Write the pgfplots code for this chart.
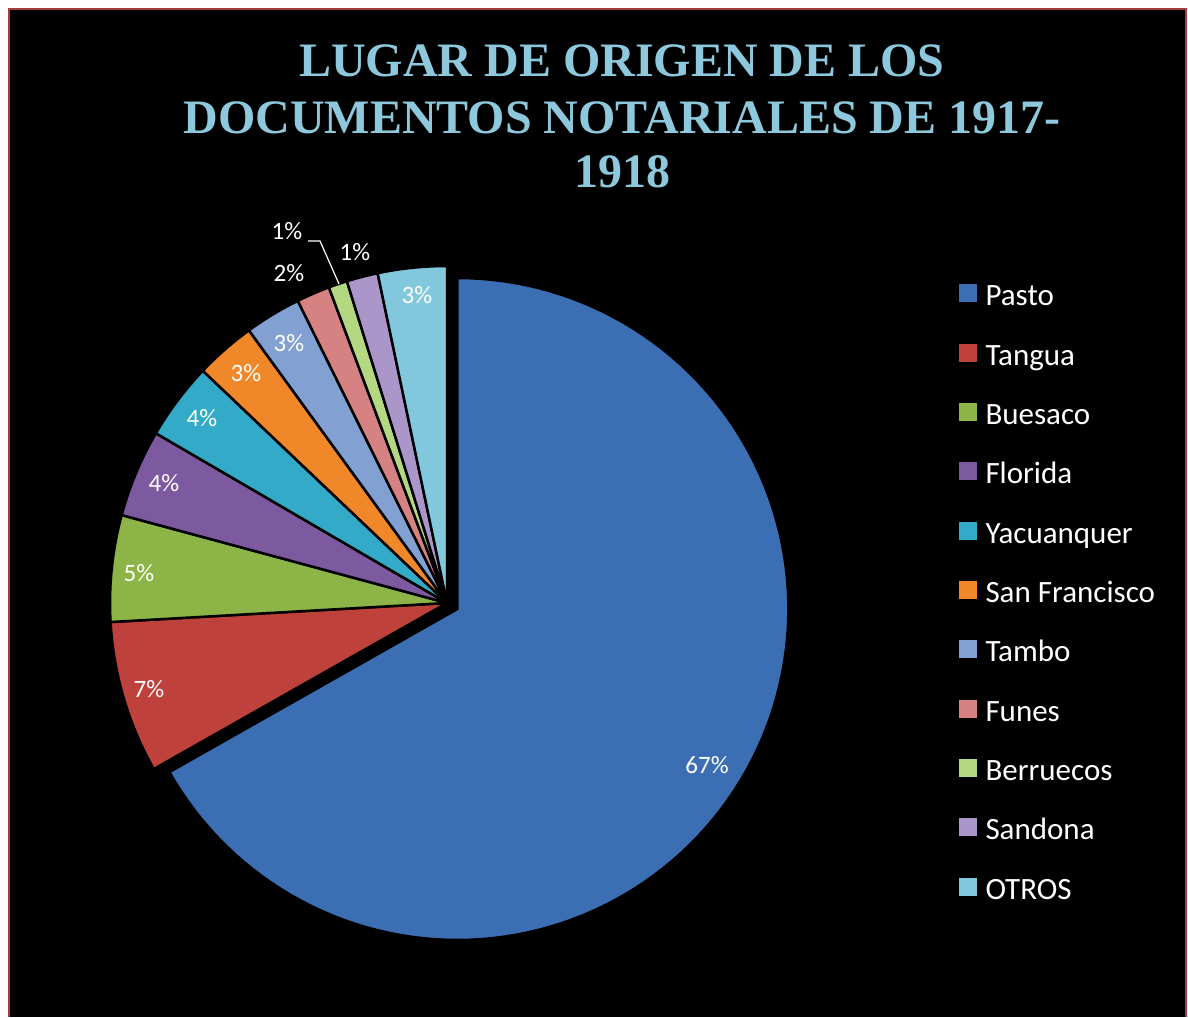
\documentclass[border=0pt]{standalone}
\usepackage{pgfplots}
\pgfplotsset{compat=1.18}
\usepackage{fontspec}
\setmainfont{Carlito}
\newfontfamily\titlefont{Liberation Serif}
\definecolor{titleblue}{RGB}{141,200,220}
\definecolor{cPasto}{RGB}{60,110,180}
\definecolor{cTangua}{RGB}{190,65,60}
\definecolor{cBuesaco}{RGB}{140,180,70}
\definecolor{cFlorida}{RGB}{125,90,160}
\definecolor{cYacu}{RGB}{50,170,200}
\definecolor{cSanFran}{RGB}{240,135,40}
\definecolor{cTambo}{RGB}{130,160,210}
\definecolor{cFunes}{RGB}{215,130,130}
\definecolor{cBerru}{RGB}{180,215,130}
\definecolor{cSandona}{RGB}{170,150,200}
\definecolor{cOtros}{RGB}{130,200,220}
\definecolor{frame}{RGB}{165,60,60}
% #1 start (%), #2 end (%), #3 colour, #4 cx, #5 cy, #6 radius, #7 samples
\newcommand{\slice}[7]{%
  \addplot[fill=#3, draw=black, line width=2.5bp, domain=90-3.6*#2:90-3.6*#1, samples=#7]
    ({#4+#6*cos(x)}, {#5+#6*sin(x)}) -- (axis cs:#4,#5) -- cycle;
}
\begin{document}
\begin{tikzpicture}[x=1bp,y=1bp]
\fill[white] (0,0) rectangle (1188,1017);
\fill[black] (8,0) rectangle (1187,1009);
\draw[frame, line width=2bp] (9,0) -- (9,1008) -- (1186,1008) -- (1186,0);
\begin{axis}[
  x=1bp, y=1bp, xmin=0, xmax=1188, ymin=0, ymax=1017,
  scale only axis, hide axis, at={(0,0)}, anchor=origin,
  legend image code/.code={\path (0bp,0bp) -- (25bp,0bp);\fill[#1, draw=none] (0bp,-4bp) rectangle (18bp,14bp);},
  legend cell align=left,
  legend style={at={(axis cs:958,733)}, anchor=north west, draw=none, fill=none,
    inner sep=0pt, outer sep=0pt, text=white,
    font=\fontsize{31bp}{31bp}\selectfont,
    row sep=30.3bp,
    nodes={text height=22bp, text depth=7bp, inner sep=0pt}},
]
% cumulative shares (%): 0, 66.8, 74.1, 79.2, 83.4, 87.1, 90.0, 92.7, 94.3, 95.2, 96.7, 100
\slice{0}{66.8}{cPasto}{457.4}{408.0}{331}{120}
\slice{66.8}{74.1}{cTangua}{447}{414}{337}{20}
\slice{74.1}{79.2}{cBuesaco}{447}{414}{337}{20}
\slice{79.2}{83.4}{cFlorida}{447}{414}{337}{20}
\slice{83.4}{87.1}{cYacu}{447}{414}{337}{20}
\slice{87.1}{90.0}{cSanFran}{447}{414}{337}{20}
\slice{90.0}{92.7}{cTambo}{447}{414}{337}{20}
\slice{92.7}{94.3}{cFunes}{447}{414}{337}{12}
\slice{94.3}{95.2}{cBerru}{447}{414}{337}{8}
\slice{95.2}{96.7}{cSandona}{447}{414}{337}{12}
\slice{96.7}{100}{cOtros}{447}{414}{337}{20}
\legend{Pasto,Tangua,Buesaco,Florida,Yacuanquer,San Francisco,Tambo,Funes,Berruecos,Sandona,OTROS}
% title
\node[anchor=base, text=titleblue, font=\titlefont\bfseries\fontsize{48bp}{55bp}\selectfont] at (axis cs:622,940) {LUGAR DE ORIGEN DE LOS};
\node[anchor=base, text=titleblue, font=\titlefont\bfseries\fontsize{48bp}{55bp}\selectfont] at (axis cs:622,883) {DOCUMENTOS NOTARIALES DE 1917-};
\node[anchor=base, text=titleblue, font=\titlefont\bfseries\fontsize{48bp}{55bp}\selectfont] at (axis cs:622,829) {1918};
% data labels
\begin{scope}[every node/.style={text=white, font=\fontsize{25bp}{25bp}\selectfont, inner sep=0pt}]
\node at (axis cs:707,252) {67\%};
\node at (axis cs:149,328) {7\%};
\node at (axis cs:139,444) {5\%};
\node at (axis cs:164,534) {4\%};
\node at (axis cs:202,599) {4\%};
\node at (axis cs:246,644) {3\%};
\node at (axis cs:289,674) {3\%};
\node at (axis cs:289,744) {2\%};
\node at (axis cs:287,786) {1\%};
\node at (axis cs:355,765) {1\%};
\node at (axis cs:417,722) {3\%};
\end{scope}
\draw[white, line width=1.2bp] (axis cs:308,776) -- (axis cs:320,776) -- (axis cs:339,733);
\end{axis}
\end{tikzpicture}
\end{document}
